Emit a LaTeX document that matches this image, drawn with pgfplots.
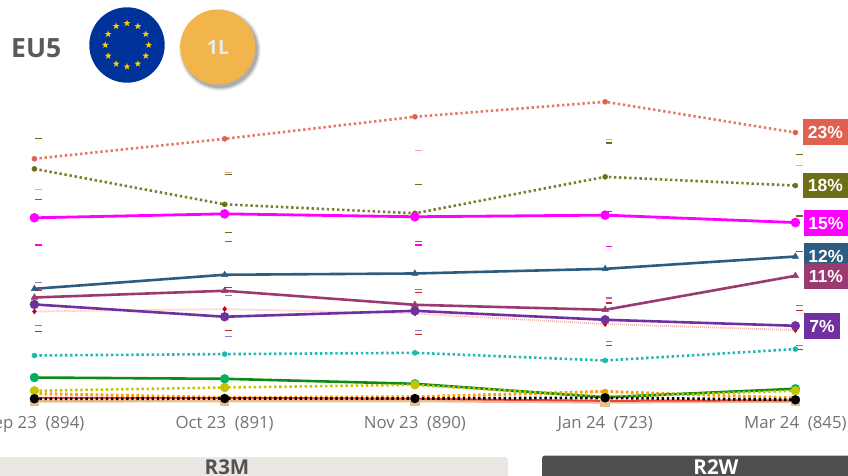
\documentclass[border=0pt]{standalone}
\usepackage{pgfplots}
\pgfplotsset{compat=1.18}
\usepackage{fontspec}
\setmainfont{Open Sans}
\newfontfamily\lab{Liberation Sans}
\usetikzlibrary{shapes.geometric}
\definecolor{coral}{HTML}{E0604F}
\definecolor{coralp}{HTML}{F4A09A}
\definecolor{olive}{HTML}{6E6E16}
\definecolor{magen}{HTML}{FF00FF}
\definecolor{blu}{HTML}{2C5C80}
\definecolor{maroon}{HTML}{9B3A6E}
\definecolor{purp}{HTML}{7030A0}
\definecolor{purpp}{HTML}{A070C8}
\definecolor{dred}{HTML}{C00000}
\definecolor{pinkl}{HTML}{F4B8B8}
\definecolor{teal2}{HTML}{1FB8B0}
\definecolor{grn}{HTML}{0E8A16}
\definecolor{grnm}{HTML}{00B060}
\definecolor{yel}{HTML}{C4C400}
\definecolor{orng}{HTML}{FF9A10}
\definecolor{redl}{HTML}{F04040}
\definecolor{tan2}{HTML}{E8BE90}
\begin{document}
\begin{tikzpicture}[x=1pt,y=-1pt]
\useasboundingbox (0,0) rectangle (848,476);
% header
\node[font=\fontsize{26.5}{28}\selectfont\bfseries,text=black!65,anchor=west,inner sep=0] at (11,48) {EU5};
\fill[fill={rgb,255:red,0;green,51;blue,153}] (127,45) circle[radius=37.7];
\foreach \a in {0,30,...,330}
  \node[star,star points=5,star point ratio=2.4,fill={rgb,255:red,255;green,204;blue,0},inner sep=0,minimum size=7pt] at ({127+21.7*cos(\a)},{45+21.7*sin(\a)}) {};
\foreach \o/\r in {0.05/41,0.07/40,0.1/39,0.14/38}
  \fill[black,opacity=\o] (220,50) circle[radius=\r];
\fill[fill={rgb,255:red,242;green,181;blue,76}] (217.7,47) circle[radius=37.5];
\node[font=\fontsize{19.5}{21}\selectfont\bfseries,text=white!92!black] at (218,48) {1L};
% bottom bands
\fill[fill={rgb,255:red,235;green,232;blue,228},rounded corners=3pt] (-10,457) rectangle (508,490);
\fill[fill=black!69,rounded corners=3pt] (542,455.5) rectangle (860,490);
\node[font=\fontsize{20.5}{22}\selectfont\bfseries,text=black!68,anchor=base,inner sep=0] at (227,474) {R3M};
\node[font=\fontsize{20.5}{22}\selectfont\bfseries,text=white,anchor=base,inner sep=0] at (716,474) {R2W};
\begin{axis}[
  at={(0.4pt,-410.8pt)},anchor=south west,
  scale only axis,width=848pt,height=320pt,
  xmin=-0.1787,xmax=4.2786,ymin=-0.948,ymax=26.638,
  clip=false,
  axis line style={draw=none},
  tick style={draw=none},
  ytick=\empty,
  xtick={0,1,2,3,4},
  xticklabels={{Sep 23\ \ (894)},{Oct 23\ \ (891)},{Nov 23\ \ (890)},{Jan 24\ \ (723)},{Mar 24\ \ (845)}},
  xticklabel style={font=\fontsize{16.8}{18}\selectfont,text=black!55,yshift=-2.4pt},
  dotl/.style={line width=2.6pt,dash pattern=on 2.4pt off 2.7pt},
  dsh/.style={only marks,mark=-,mark size=3.4pt,mark options={line width=1.2pt}},
]
% error dashes
\addplot[dsh,coralp] coordinates {(0.02,18.10)(1.02,19.57)(2.02,21.47)(3.02,22.41)(4.02,20.17)};
\addplot[dsh,olive] coordinates {(0.02,22.56)(0.02,17.24)(1.02,19.40)(1.02,14.42)(2.02,18.53)(2.02,13.65)(3.02,22.13)(3.02,16.23)(4.02,21.15)(4.02,15.84)};
\addplot[dsh,magen] coordinates {(0.02,13.34)(1.02,13.65)(2.02,13.34)(3.02,13.22)(4.02,12.78)};
\addplot[dsh,purpp] coordinates {(0.02,10.09)(0.02,6.41)(1.02,8.99)(1.02,5.43)(2.02,9.54)(2.02,5.95)(3.02,8.77)(3.02,5.00)(4.02,8.16)(4.02,4.66)};
\addplot[dsh,dred!85!white] coordinates {(0.02,9.40)(0.02,5.86)(1.02,9.66)(1.02,5.95)(2.02,9.22)(2.02,5.63)(3.02,8.34)(3.02,4.66)(4.02,7.70)(4.02,4.31)};
% series
\addplot[coral!85!white,dotl,mark=*,mark size=2.6pt,mark options={solid,fill=coral,draw=coral,line width=0.3pt}] coordinates {(0,20.78)(1,22.50)(2,24.40)(3,25.69)(4,23.04)};
\addplot[olive!90!white,dotl,mark=*,mark size=2.6pt,mark options={solid,fill=olive,draw=olive,line width=0.3pt}] coordinates {(0,19.91)(1,16.85)(2,16.08)(3,19.22)(4,18.47)};
\addplot[magen,line width=2.8pt,mark=*,mark size=3.3pt,mark options={solid,fill=magen}] coordinates {(0,15.69)(1,16.03)(2,15.78)(3,15.92)(4,15.28)};
\addplot[pinkl,line width=1.8pt,dash pattern=on 1pt off 1pt,mark=diamond*,mark size=2.6pt,mark options={solid,fill=dred,draw=dred,line width=0.3pt}] coordinates {(0,7.61)(1,7.82)(2,7.44)(3,6.53)(4,6.01)};
\addplot[blu,line width=2.6pt,mark=triangle*,mark size=3.6pt,mark options={solid,fill=blu,line width=0.5pt}] coordinates {(0,9.57)(1,10.78)(2,10.89)(3,11.29)(4,12.35)};
\addplot[maroon,line width=2.6pt,mark=triangle*,mark size=3.8pt,mark options={solid,fill=maroon,line width=0.5pt}] coordinates {(0,8.82)(1,9.40)(2,8.19)(3,7.76)(4,10.69)};
\addplot[purp,line width=2.6pt,mark=*,mark size=3.3pt,mark options={solid,fill=purp}] coordinates {(0,8.22)(1,7.16)(2,7.67)(3,6.90)(4,6.38)};
\addplot[teal2,dotl,mark=*,mark size=2.6pt,mark options={solid,fill=teal2,line width=0.3pt}] coordinates {(0,3.82)(1,3.94)(2,4.05)(3,3.39)(4,4.37)};
\addplot[tan2,line width=2.8pt,mark=square*,mark size=3.4pt,mark options={solid,fill=tan2}] coordinates {(0,-0.13)(1,-0.09)(2,-0.09)(3,-0.22)(4,-0.13)};
\addplot[redl,line width=2pt] coordinates {(0,0.17)(1,0.17)(2,0.09)(3,-0.09)(4,-0.04)};
\addplot[orng,line width=3pt,dash pattern=on 2.6pt off 2.5pt,mark=*,mark size=2.6pt,mark options={solid,fill=orng,line width=0.3pt}] coordinates {(0,0.54)(1,0.20)(2,0.26)(3,0.72)(4,0.15)};
\addplot[grn,line width=2.6pt,mark=*,mark size=3.3pt,mark options={solid,fill=grnm,draw=grnm}] coordinates {(0,1.92)(1,1.81)(2,1.38)(3,0.22)(4,0.95)};
\addplot[yel,dotl,mark=*,mark size=3.3pt,mark options={solid,fill=yel}] coordinates {(0,0.78)(1,1.06)(2,1.29)(3,0.26)(4,0.78)};
\addplot[black,line width=2.8pt,dash pattern=on 2.4pt off 2.7pt,mark=*,mark size=3.2pt,mark options={solid,fill=black}] coordinates {(0,0.09)(1,0.11)(2,0.11)(3,0.17)(4,0.00)};
\end{axis}
% value labels
\newcommand\vl[5]{\fill[fill=#1] (#2,#3) rectangle (#4,#3+25.5);
  \node[font=\lab\fontsize{17.5}{19}\selectfont\bfseries,text=white] at ({(#2+#4)/2},#3+13) {#5};}
\vl{coral}{803}{119}{848}{23\%}
\vl{olive}{803}{172.5}{848}{18\%}
\vl{magen}{804}{210}{848}{15\%}
\vl{blu}{804}{243}{848}{12\%}
\vl{maroon}{804}{263}{848}{11\%}
\vl{purp}{804}{313}{840}{7\%}
\end{tikzpicture}
\end{document}
